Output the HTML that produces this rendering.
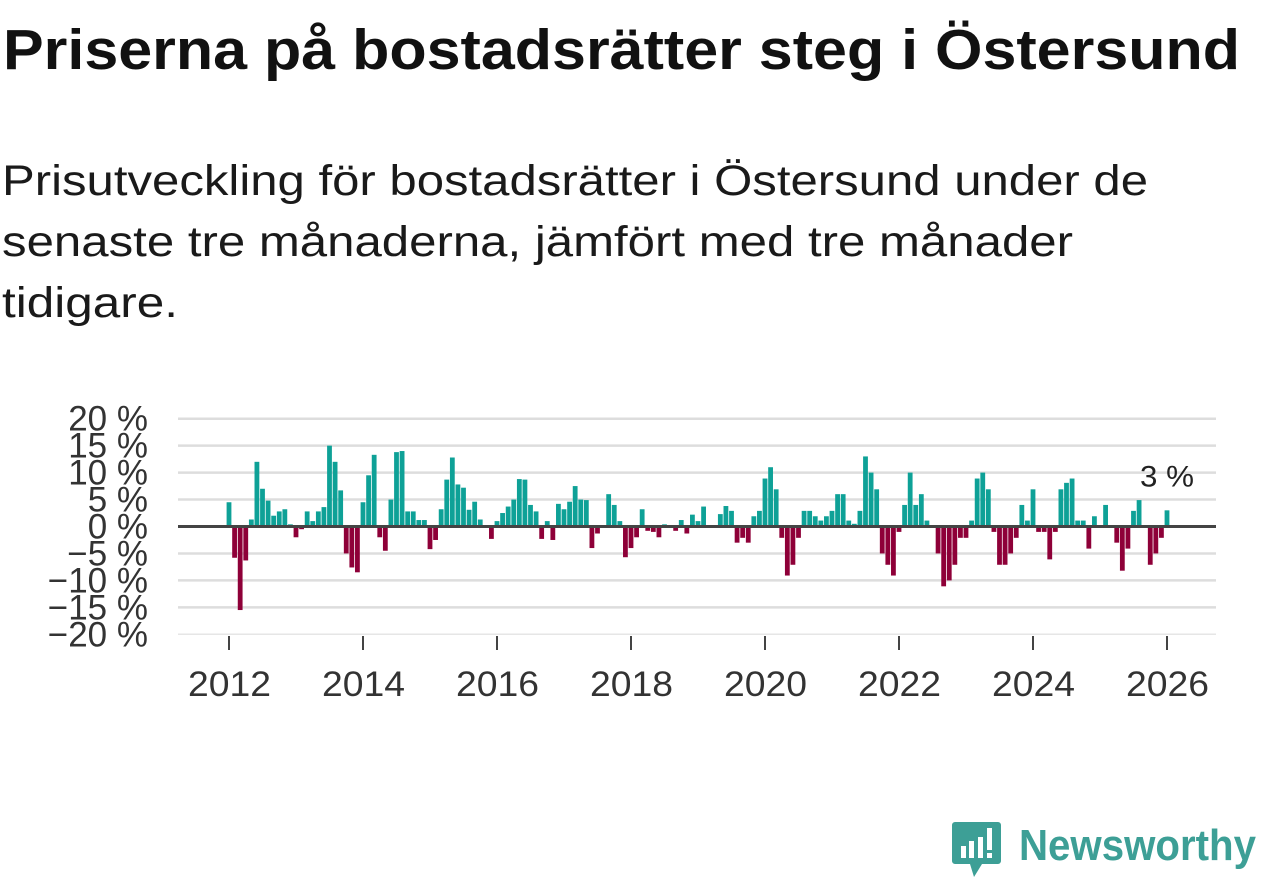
<!DOCTYPE html>
<html><head><meta charset="utf-8"><style>
html,body{margin:0;padding:0;background:#fff;width:1262px;height:879px;overflow:hidden;font-family:"Liberation Sans",sans-serif;}
svg{position:absolute;left:0;top:0}
</style></head><body>
<svg width="1262" height="879">
<text x="3" y="69" font-size="57" font-weight="bold" fill="#111" textLength="1237" lengthAdjust="spacingAndGlyphs" font-family="Liberation Sans, sans-serif">Priserna på bostadsrätter steg i Östersund</text>
<g fill="#1a1a1a" font-size="43" font-family="Liberation Sans, sans-serif">
<text x="2" y="195" textLength="1146" lengthAdjust="spacingAndGlyphs">Prisutveckling för bostadsrätter i Östersund under de</text>
<text x="2" y="256" textLength="1071" lengthAdjust="spacingAndGlyphs">senaste tre månaderna, jämfört med tre månader</text>
<text x="2" y="317" textLength="176" lengthAdjust="spacingAndGlyphs">tidigare.</text>
</g>
</svg>
<svg id="chart" width="1262" height="879"></svg>
<svg width="1262" height="879" style="pointer-events:none">
<g>
<path d="M955 822 h43 a3 3 0 0 1 3 3 v36 a3 3 0 0 1 -3 3 h-16 l-8 13 l-4 -13 h-15 a3 3 0 0 1 -3 -3 v-36 a3 3 0 0 1 3 -3z" fill="#3d9f96"/>
<rect x="961" y="846" width="5" height="12" fill="#fff"/><rect x="969" y="841" width="5" height="17" fill="#fff"/><rect x="978" y="837" width="5" height="21" fill="#fff"/><rect x="987" y="828" width="5" height="22" fill="#fff"/><rect x="987" y="853" width="5" height="5" fill="#fff"/>
</g>
<text x="1019" y="860" font-size="44" font-weight="bold" fill="#3d9f96" textLength="237" lengthAdjust="spacingAndGlyphs" font-family="Liberation Sans, sans-serif">Newsworthy</text>
</svg>
<script>
const years = ["2012","2014","2016","2018","2020","2022","2024","2026"];
const yTicks = [20,15,10,5,0,-5,-10,-15,-20];
const yTickLabels = ["20 %","15 %","10 %","5 %","0 %","\u22125 %","\u221210 %","\u221215 %","\u221220 %"];
const values2012 = [4.5,-5.8,-15.5,-6.3,1.3,12,7,4.8,2,2.8,3.2,0.4];
const values2013 = [-2,-0.5,2.8,1,2.8,3.6,15,12,6.7,-5,-7.6,-8.5];
const values2014 = [4.5,9.5,13.3,-2,-4.5,5,13.8,14,2.8,2.8,1.2,1.2];
const values2015 = [-4.2,-2.5,3.2,8.7,12.8,7.8,7.2,3.1,4.6,1.3,0,-2.3];
const values2016 = [1,2.5,3.7,5,8.8,8.7,4,2.8,-2.3,1,-2.5,4.2];
const values2017 = [3.2,4.6,7.5,5,4.9,-4,-1.3,0,6,4,1,-5.7];
const values2018 = [-4,-2,3.2,-0.8,-1,-2,0.4,0,-0.8,1.2,-1.3,2.2];
const values2019 = [1,3.7,0,0,2.3,3.8,2.9,-3,-2.1,-3,1.9,2.9];
const values2020 = [8.9,11,6.9,-2.1,-9.1,-7.1,-2.1,2.9,2.9,1.9,1.1,1.9];
const values2021 = [2.9,6,6,1.1,0.5,2.9,13,10,6.9,-5,-7.1,-9.1];
const values2022 = [-1,4,10,4,6,1.1,0,-5,-11.1,-10,-7.1,-2.1];
const values2023 = [-2.1,1.1,8.9,10,6.9,-1,-7.1,-7.1,-5,-2.1,4,1.1];
const values2024 = [6.9,-1,-1,-6.1,-1,6.9,8.1,8.9,1.1,1.1,-4.1,1.9];
const values2025 = [0,4,0,-3,-8.2,-4.1,2.9,4.9,0,-7.1,-5,-2.1];
const values2026 = [3];
const values = [].concat(values2012,values2013,values2014,values2015,values2016,values2017,values2018,values2019,values2020,values2021,values2022,values2023,values2024,values2025,values2026);
const lastLabel = "3 %";

const NS="http://www.w3.org/2000/svg";
const svg=document.getElementById('chart');
const X0=178,X1=1216;
const x=i=>229+i*(1167-229)/168;
const y=v=>526.5-v*5.39;
function mk(t,a){const e=document.createElementNS(NS,t);for(const k in a)e.setAttribute(k,a[k]);svg.appendChild(e);return e;}
yTicks.forEach((t,k)=>{
  if(t!==0){const g=mk('line',{x1:X0,x2:X1,y1:y(t),y2:y(t),stroke:t===-20?'#e6e6e6':'#dddddd','stroke-width':t===-20?1.5:2.5});
  
  }
  const l=mk('text',{x:148,y:y(t)+12,'text-anchor':'end','font-size':35,fill:'#333','font-family':'Liberation Sans, sans-serif'});
  l.textContent=yTickLabels[k];
  
  
});
values.forEach((v,i)=>{
  const top=Math.min(y(v),y(0)),h=Math.abs(y(v)-y(0));
  const b=mk('rect',{x:x(i)-2.4,y:top,width:4.8,height:h,fill:v>=0?'#0ea197':'#8e0038'});
  
  
});
const z=mk('line',{x1:X0,x2:X1,y1:y(0),y2:y(0),stroke:'#444','stroke-width':3});


years.forEach(yr=>{
  const i=(parseInt(yr)-2012)*12;
  const t=mk('line',{x1:x(i),x2:x(i),y1:636,y2:650,stroke:'#444','stroke-width':2});
  
  
  const l=mk('text',{x:x(i)-41,y:696,'font-size':35,fill:'#333',textLength:83,lengthAdjust:'spacingAndGlyphs','font-family':'Liberation Sans, sans-serif'});
  l.textContent=yr;
  
  
});
const n=values.length-1;
const ll=mk('text',{x:x(n)-27,y:y(values[n])-24,'font-size':30,fill:'#222',textLength:54,lengthAdjust:'spacingAndGlyphs','font-family':'Liberation Sans, sans-serif'});
ll.textContent=lastLabel;


</script>
</body></html>
